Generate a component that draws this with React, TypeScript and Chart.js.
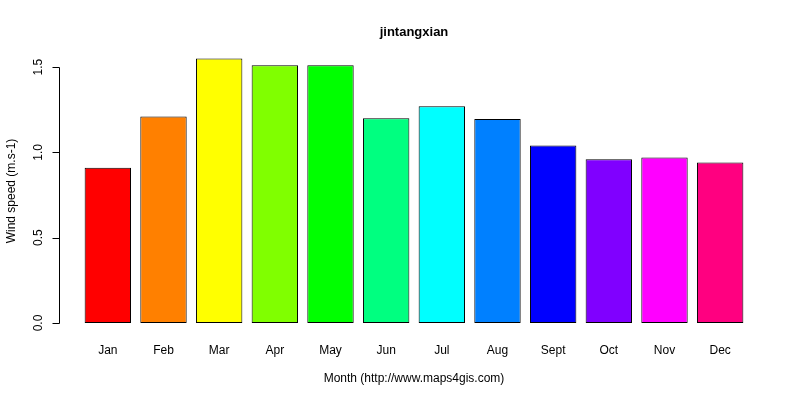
import { useEffect, useRef } from 'react';
import { Chart, registerables } from 'chart.js';
import type { ChartOptions, Plugin } from 'chart.js';

Chart.register(...registerables);

const months = ['Jan', 'Feb', 'Mar', 'Apr', 'May', 'Jun', 'Jul', 'Aug', 'Sept', 'Oct', 'Nov', 'Dec'];
const windSpeed = [0.91, 1.21, 1.55, 1.51, 1.51, 1.2, 1.27, 1.195, 1.04, 0.96, 0.97, 0.94];
const barColors = [
    '#FF0000', '#FF8000', '#FFFF00', '#80FF00', '#00FF00', '#00FF80',
    '#00FFFF', '#0080FF', '#0000FF', '#8000FF', '#FF00FF', '#FF0080',
];
const yTicks = [0, 0.5, 1.0, 1.5];

const FONT = '"Liberation Sans", Arial, sans-serif';

// R-style axes and labels drawn on top of the bars
const rAxes: Plugin<'bar'> = {
    id: 'rAxes',
    afterDraw(chart) {
        const { ctx, scales } = chart;
        const y = scales.y;
        const x = scales.x;
        const axisX = 59.5;
        const plotMid = (80 + 748) / 2 - 20;

        ctx.save();
        ctx.strokeStyle = '#000';
        ctx.lineWidth = 1;
        ctx.fillStyle = '#000';

        // y axis line + ticks
        const top = Math.round(y.getPixelForValue(yTicks[yTicks.length - 1])) + 0.5;
        const bottom = Math.round(y.getPixelForValue(yTicks[0])) + 0.5;
        ctx.beginPath();
        ctx.moveTo(axisX, top);
        ctx.lineTo(axisX, bottom);
        yTicks.forEach((t) => {
            const py = Math.round(y.getPixelForValue(t)) + 0.5;
            ctx.moveTo(axisX, py);
            ctx.lineTo(axisX - 7, py);
        });
        ctx.stroke();

        ctx.font = `12px ${FONT}`;
        ctx.textAlign = 'center';
        ctx.textBaseline = 'alphabetic';
        yTicks.forEach((t) => {
            const py = y.getPixelForValue(t);
            ctx.save();
            ctx.translate(42, py);
            ctx.rotate(-Math.PI / 2);
            ctx.fillText(t.toFixed(1), 0, 0);
            ctx.restore();
        });

        // y axis title
        ctx.save();
        ctx.translate(15, 191);
        ctx.rotate(-Math.PI / 2);
        ctx.fillText('Wind speed (m.s-1)', 0, 0);
        ctx.restore();

        // month labels
        months.forEach((m, i) => {
            ctx.fillText(m, x.getPixelForValue(i), 354);
        });

        // x axis title
        ctx.fillText('Month (http://www.maps4gis.com)', plotMid + 20, 382);

        // main title
        ctx.font = `bold 13px ${FONT}`;
        ctx.fillText('jintangxian', plotMid + 20, 36);
        ctx.restore();
    },
};

const App: React.FC = () => {
    const chartRef = useRef<HTMLCanvasElement | null>(null);

    useEffect(() => {
        const ctx = chartRef.current?.getContext('2d');
        if (!ctx) return;

        const options: ChartOptions<'bar'> = {
            responsive: false,
            animation: false,
            devicePixelRatio: 1,
            layout: { padding: { left: 80, right: 52, top: 50, bottom: 77 } },
            plugins: {
                legend: { display: false },
                title: { display: false },
                tooltip: { enabled: false },
            },
            scales: {
                x: { display: false, offset: true },
                y: { display: false, min: 0, max: 1.6 },
            },
        };

        const chart = new Chart(ctx, {
            type: 'bar',
            data: {
                labels: months,
                datasets: [
                    {
                        label: 'Wind speed',
                        data: windSpeed,
                        backgroundColor: barColors,
                        borderColor: '#000',
                        borderWidth: 1,
                        borderSkipped: false,
                        barPercentage: 1 / 1.2,
                        categoryPercentage: 1,
                    },
                ],
            },
            options,
            plugins: [rAxes],
        });

        return () => {
            chart.destroy();
        };
    }, []);

    return (
        <div style={{ position: 'fixed', left: 0, top: 0, width: 800, height: 400, background: '#fff' }}>
            <canvas ref={chartRef} width={800} height={400}></canvas>
        </div>
    );
};

export default App;
